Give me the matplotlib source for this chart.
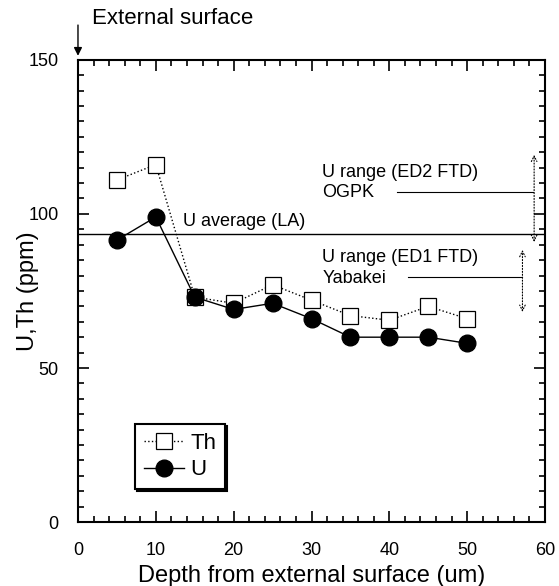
import matplotlib.pyplot as plt
from matplotlib.patches import FancyArrowPatch
from matplotlib.ticker import MultipleLocator

plt.rcParams['font.family'] = ['Liberation Sans', 'DejaVu Sans']

depth = [5, 10, 15, 20, 25, 30, 35, 40, 45, 50]
th = [111, 116, 73, 71, 77, 72, 67, 65.5, 70, 66]
u = [91.5, 99, 73, 69, 71, 66, 60, 60, 60, 58]

u_avg = 93.4
ed2_range = (119.2, 90.9)
ed2_line = 107.1
ed1_range = (88.3, 68.2)
ed1_line = 79.5

fig = plt.figure(figsize=(5.59, 5.86), dpi=100)
ax = fig.add_axes([0.1395, 0.109, 0.8355, 0.789])

ax.plot(depth, th, linestyle=':', color='black', linewidth=1,
        marker='s', markersize=11, markerfacecolor='white',
        markeredgecolor='black', markeredgewidth=0.9, label='Th')
ax.plot(depth, u, linestyle='-', color='black', linewidth=1,
        marker='o', markersize=12, markerfacecolor='black',
        markeredgecolor='black', label='U')

ax.axhline(u_avg, color='black', linewidth=1)
ax.text(13.5, 97.4, 'U average (LA)', fontsize=13, ha='left', va='center')

# ED2 range
ax.text(31.4, 113.3, 'U range (ED2 FTD)', fontsize=13, ha='left', va='center')
ax.text(31.4, 106.8, 'OGPK', fontsize=13, ha='left', va='center')
ax.plot([41, 58.4], [ed2_line, ed2_line], color='black', linewidth=0.8)
ax.annotate('', xy=(58.6, ed2_range[0]), xytext=(58.6, ed2_range[1]),
            arrowprops=dict(arrowstyle='<->', color='black', lw=0.8,
                            linestyle=':', shrinkA=0, shrinkB=0))

# ED1 range
ax.text(31.4, 86, 'U range (ED1 FTD)', fontsize=13, ha='left', va='center')
ax.text(31.4, 79.2, 'Yabakei', fontsize=13, ha='left', va='center')
ax.plot([42.4, 57.1], [ed1_line, ed1_line], color='black', linewidth=0.8)
ax.annotate('', xy=(57.1, ed1_range[0]), xytext=(57.1, ed1_range[1]),
            arrowprops=dict(arrowstyle='<->', color='black', lw=0.8,
                            linestyle=':', shrinkA=0, shrinkB=0))

ax.set_xlim(0, 60)
ax.set_ylim(0, 150)
ax.xaxis.set_major_locator(MultipleLocator(10))
ax.xaxis.set_minor_locator(MultipleLocator(2))
ax.yaxis.set_major_locator(MultipleLocator(50))
ax.yaxis.set_minor_locator(MultipleLocator(5))
ax.tick_params(which='both', direction='in', top=True, right=True,
               width=1.2, labelsize=13, pad=14)
ax.tick_params(which='major', length=8)
ax.tick_params(which='minor', length=4)
for s in ax.spines.values():
    s.set_linewidth(1.5)

ax.set_xlabel('Depth from external surface (um)', fontsize=17)
ax.set_ylabel('U,Th (ppm)', fontsize=17)
ax.xaxis.set_label_coords(0.5, -0.093)
ax.yaxis.set_label_coords(-0.0835, 0.5)

leg = ax.legend(loc='lower left', bbox_to_anchor=(0.122, 0.071),
                borderaxespad=0, fontsize=16, frameon=True, fancybox=False,
                edgecolor='black', handlelength=1.8, handletextpad=0.3,
                borderpad=0.4, labelspacing=0.25,
                shadow={'color': 'black', 'alpha': 1, 'ox': 1.5, 'oy': -1.5})
leg.get_frame().set_linewidth(1.5)

fig.text(0.165, 0.969, 'External surface', fontsize=16, ha='left', va='center')
fig.patches.append(FancyArrowPatch(
    (0.1395, 0.962), (0.1395, 0.9), transform=fig.transFigure,
    arrowstyle='-|>', mutation_scale=12, color='black', lw=1))

fig.savefig('out.png', dpi=100)
